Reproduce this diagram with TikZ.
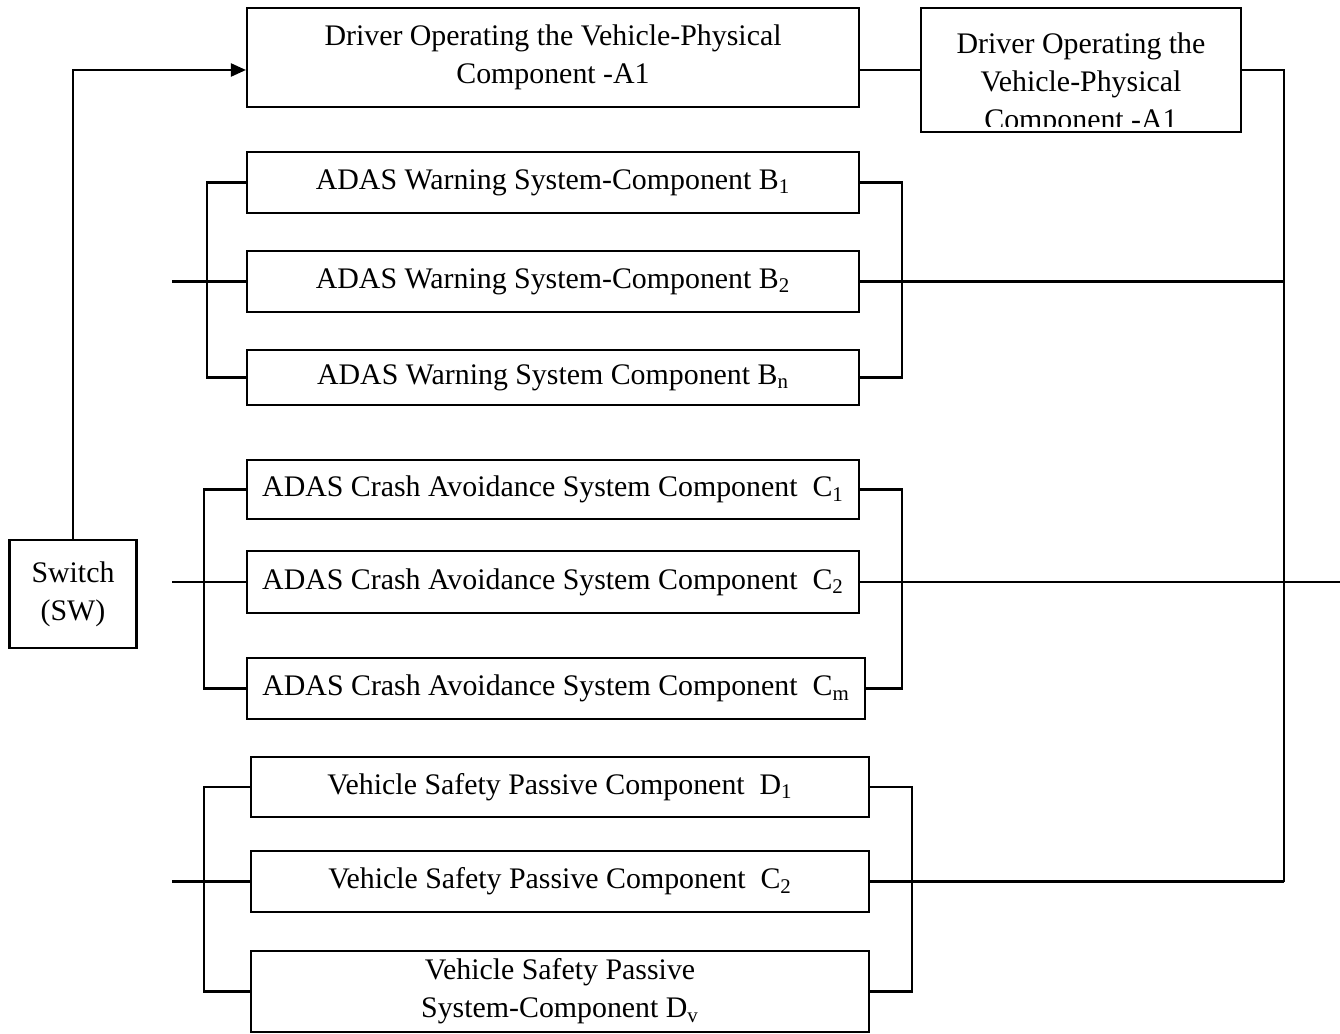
\documentclass[tikz,border=0pt]{standalone}
\usepackage{fontspec}
\setmainfont{Liberation Serif}
\usetikzlibrary{arrows.meta}

\tikzset{
  caja/.style={draw, line width=1.25pt, inner sep=0pt, align=center,
    font=\fontsize{17}{21.6}\selectfont},
  texto/.style={inner sep=0pt, align=center, font=\fontsize{17}{21.6}\selectfont},
  linea/.style={line width=1.25pt},
}

\begin{document}
\begin{tikzpicture}[x=0.02cm, y=-0.02cm]
    \useasboundingbox (0,0) rectangle (1340,1034);

    % Componente del conductor (A1)
    \node[caja, minimum width=12.24cm, minimum height=1.98cm] (a1) at (553,57.5)
      {Driver Operating the Vehicle-Physical\\Component -A1};
    \begin{scope}
      \clip (921,8) rectangle (1241,127);
      \node[texto] (a2t) at (1081,84) {Driver Operating the\\Vehicle-Physical\\Component -A1};
    \end{scope}
    \node[caja, minimum width=6.4cm, minimum height=2.48cm] (a2) at (1081,70) {};

    % Interruptor
    \node[caja, minimum width=2.54cm, minimum height=2.16cm] (sw) at (73,594) {Switch\\(SW)};

    % Sistemas de aviso (B)
    \node[caja, minimum width=12.24cm, minimum height=1.22cm] (b1) at (553,182.5)
      {ADAS Warning System-Component B\textsubscript{1}};
    \node[caja, minimum width=12.24cm, minimum height=1.22cm] (b2) at (553,281.5)
      {ADAS Warning System-Component B\textsubscript{2}};
    \node[caja, minimum width=12.24cm, minimum height=1.1cm] (bn) at (553,377.5)
      {ADAS Warning System Component B\textsubscript{n}};

    % Sistemas de evitacion de choque (C)
    \node[caja, minimum width=12.24cm, minimum height=1.18cm] (c1) at (553,489.5)
      {ADAS Crash Avoidance System Component\ \ C\textsubscript{1}};
    \node[caja, minimum width=12.24cm, minimum height=1.24cm] (c2) at (553,582)
      {ADAS Crash Avoidance System Component\ \ C\textsubscript{2}};
    \node[caja, minimum width=12.36cm, minimum height=1.22cm] (cm) at (556,688.5)
      {ADAS Crash Avoidance System Component\ \ C\textsubscript{m}};

    % Seguridad pasiva (D)
    \node[caja, minimum width=12.36cm, minimum height=1.2cm] (d1) at (560,787)
      {Vehicle Safety Passive Component\ \ D\textsubscript{1}};
    \node[caja, minimum width=12.36cm, minimum height=1.22cm] (d2) at (560,881.5)
      {Vehicle Safety Passive Component\ \ C\textsubscript{2}};
    \node[caja, minimum width=12.36cm, minimum height=1.62cm] (dv) at (560,991.5)
      {Vehicle Safety Passive\\System-Component D\textsubscript{v}};

    % Puntos de entrada y salida
    \coordinate (bent) at (172,281.5);
    \coordinate (cent) at (172,582);
    \coordinate (dent) at (172,881.5);
    \coordinate (csal) at (1340,582);
    \coordinate (rv) at (1284,881.5);

    % Conexiones de A
    \draw[linea, -{Triangle[length=0.3cm, width=0.26cm]}] (sw.north) |- (a1.west |- a2.west);
    \draw[linea] (a1.east |- a2.west) -- (a2.west);
    \draw[linea] (a2.east) -| (rv);

    % Corchetes de B
    \draw[linea] (b1.west) -- ++(-39,0) |- (bn.west);
    \draw[linea] (bent) -- (b2.west);
    \draw[linea] (b1.east) -- ++(42,0) |- (bn.east);
    \draw[linea] (b2.east) -- (b2.east -| rv);

    % Corchetes de C
    \draw[linea] (c1.west) -- ++(-42,0) |- (cm.west);
    \draw[linea] (cent) -- (c2.west);
    \draw[linea] (c1.east) -- ++(42,0) |- (cm.east);
    \draw[linea] (c2.east) -- (csal);

    % Corchetes de D
    \draw[linea] (d1.west) -- ++(-46,0) |- (dv.west);
    \draw[linea] (dent) -- (d2.west);
    \draw[linea] (d1.east) -- ++(42,0) |- (dv.east);
    \draw[linea] (d2.east) -- (rv);

  \end{tikzpicture}
\end{document}
